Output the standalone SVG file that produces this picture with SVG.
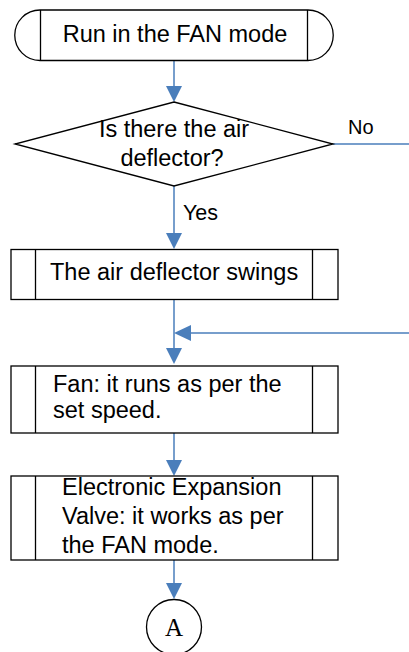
<svg xmlns="http://www.w3.org/2000/svg" width="409" height="652" viewBox="0 0 409 652">
<style>
.shape{fill:#fff;stroke:#000;stroke-width:1.3}
.ln{fill:none;stroke:#000;stroke-width:1.3}
.t{font-family:"Liberation Sans",Arial,sans-serif;font-size:23.5px;fill:#000}
.lbl{font-family:"Liberation Sans",Arial,sans-serif;fill:#000}
.c{fill:none;stroke:#4a7ebb;stroke-width:1.5}
.ah{fill:#4a7ebb;stroke:none}
</style>
<rect width="409" height="652" fill="#fff"/>
<g id="connectors">
<line class="c" x1="174" y1="61" x2="174" y2="88"/>
<polygon class="ah" points="166,86 182,86 174,102"/>
<line class="c" x1="174" y1="186" x2="174" y2="235"/>
<polygon class="ah" points="166,233 182,233 174,249"/>
<line class="c" x1="333" y1="144" x2="409" y2="144"/>
<line class="c" x1="174" y1="299" x2="174" y2="350"/>
<polygon class="ah" points="166,348 182,348 174,364"/>
<line class="c" x1="409" y1="333" x2="188" y2="333"/>
<polygon class="ah" points="191,325 191,341 174,333"/>
<line class="c" x1="174" y1="433" x2="174" y2="462"/>
<polygon class="ah" points="166,460 182,460 174,476"/>
<line class="c" x1="174" y1="560" x2="174" y2="585"/>
<polygon class="ah" points="166,583 182,583 174,599"/>
<text class="lbl" x="348" y="134" font-size="20">No</text>
<text class="lbl" x="183" y="220" font-size="21.5">Yes</text>
</g>
<g id="start">
<path class="shape" d="M40,10 H308 A25,25 0 0 1 308,60.5 H40 A25,25 0 0 1 40,10 Z"/>
<line class="ln" x1="40.5" y1="10" x2="40.5" y2="60.5"/>
<line class="ln" x1="307.5" y1="10" x2="307.5" y2="60.5"/>
<text class="t" x="175" y="42" text-anchor="middle">Run in the FAN mode</text>
</g>
<g id="decision">
<polygon class="shape" points="174,102 333,144 174,186 15,144"/>
<text class="t" x="174" y="137" text-anchor="middle">Is there the air</text>
<text class="t" x="172" y="166" text-anchor="middle">deflector?</text>
</g>
<g id="swing">
<rect class="shape" x="11" y="249.5" width="327" height="50"/>
<line class="ln" x1="35.5" y1="249.5" x2="35.5" y2="299.5"/>
<line class="ln" x1="312.5" y1="249.5" x2="312.5" y2="299.5"/>
<text class="t" x="50" y="280">The air deflector swings</text>
</g>
<g id="fan">
<rect class="shape" x="11" y="366" width="327" height="67"/>
<line class="ln" x1="35.5" y1="366" x2="35.5" y2="433"/>
<line class="ln" x1="312.5" y1="366" x2="312.5" y2="433"/>
<text class="t" x="53" y="392">Fan: it runs as per the</text>
<text class="t" x="53" y="418">set speed.</text>
</g>
<g id="eev">
<rect class="shape" x="11" y="476" width="327" height="84"/>
<line class="ln" x1="35.5" y1="476" x2="35.5" y2="560"/>
<line class="ln" x1="312.5" y1="476" x2="312.5" y2="560"/>
<text class="t" x="62" y="495">Electronic Expansion</text>
<text class="t" x="62" y="524">Valve: it works as per</text>
<text class="t" x="62" y="553">the FAN mode.</text>
</g>
<g id="connectorA">
<circle class="shape" cx="174" cy="627" r="27.5"/>
<text x="174" y="636" text-anchor="middle" font-family="'Liberation Serif','Times New Roman',serif" font-size="25">A</text>
</g>
</svg>
